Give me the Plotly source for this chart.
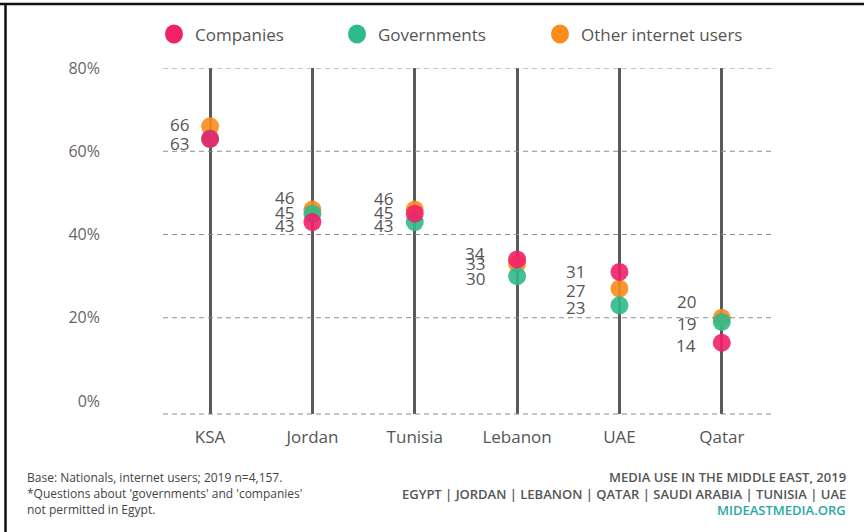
import plotly.graph_objects as go

# Share of respondents (%) by country and group
countries = ["KSA", "Jordan", "Tunisia", "Lebanon", "UAE", "Qatar"]
companies = [63, 43, 45, 34, 31, 14]
governments = [63, 45, 43, 30, 23, 19]
other_users = [66, 46, 46, 33, 27, 20]

series_names = ["Other internet users", "Governments", "Companies"]
series_values = [other_users, governments, companies]
series_colors = ["#FA8C1C", "#2FBA8A", "#F1206A"]

y_ticks = [0, 20, 40, 60, 80]
grid_values = [20, 40, 60, 80]

# Nudges (pixels) that keep the stacked value labels from colliding
label_dx = {"KSA": -19, "Jordan": -16, "Tunisia": -20, "Lebanon": -30, "UAE": -32, "Qatar": -24}
label_dy = {
    "KSA": [2, -4.5],
    "Jordan": [12, 1.5, -3],
    "Tunisia": [11, 1.5, -3],
    "Lebanon": [6, 0.5, -2],
    "UAE": [0, -1.5, -2],
    "Qatar": [16, -2, -3],
}

FONT = "Open Sans"
TEXT = "#555555"

# plot-area geometry in pixels (used to place paper-referenced decorations)
W, H = 864, 532
L, R, T, B = 163, 775, 68, 414


def px(x):
    return (x - L) / (R - L)


def py(y):
    return (B - y) / (B - T)


fig = go.Figure()
for name, vals, col in zip(series_names, series_values, series_colors):
    fig.add_trace(go.Scatter(
        x=countries, y=vals, mode="markers", name=name,
        marker=dict(size=18, color=col, opacity=0.9, line=dict(width=0)),
        showlegend=False,
    ))

annotations = []
# value labels, left of each country's line
for i, c in enumerate(countries):
    vals = sorted({companies[i], governments[i], other_users[i]}, reverse=True)
    for k, v in enumerate(vals):
        annotations.append(dict(
            x=c, y=v, xref="x", yref="y", text=str(v), showarrow=False,
            xanchor="right", yanchor="middle", xshift=label_dx[c], yshift=label_dy[c][k],
            font=dict(family=FONT, size=17, color=TEXT),
        ))

shapes = []
# dashed horizontal guides
for g in grid_values:
    shapes.append(dict(type="line", xref="paper", yref="y", x0=0, x1=1, y0=g, y1=g,
                       line=dict(color="#8a8a8a", width=1, dash="5px,4px")))
shapes.append(dict(type="line", xref="paper", yref="paper", x0=0, x1=1, y0=0, y1=0,
                   line=dict(color="#8a8a8a", width=1, dash="5px,4px")))

# custom legend
legend_items = [("Companies", "#F1206A", 174), ("Governments", "#2FBA8A", 357),
                ("Other internet users", "#FA8C1C", 560)]
for label, col, xc in legend_items:
    shapes.append(dict(type="circle", xref="paper", yref="paper",
                       xsizemode="pixel", ysizemode="pixel",
                       xanchor=px(xc), yanchor=py(34), x0=-9, x1=9, y0=-9.5, y1=9.5,
                       fillcolor=col, line=dict(width=0)))
    annotations.append(dict(x=px(xc + 19), y=py(34), xref="paper", yref="paper", text=label,
                            showarrow=False, xanchor="left", yanchor="middle",
                            font=dict(family=FONT, size=17, color=TEXT)))

# frame lines along top and left edge
shapes.append(dict(type="line", xref="paper", yref="paper", x0=px(0), x1=px(W), y0=py(4), y1=py(4),
                   line=dict(color="#111111", width=2.5)))
shapes.append(dict(type="line", xref="paper", yref="paper", x0=px(5.5), x1=px(5.5), y0=py(3), y1=py(H),
                   line=dict(color="#111111", width=2.5)))

# footer notes
left_notes = ["Base: Nationals, internet users; 2019 n=4,157.",
              "*Questions about 'governments' and 'companies'",
              "not permitted in Egypt."]
for txt, yy in zip(left_notes, [477, 494, 510]):
    annotations.append(dict(x=px(25), y=py(yy), xref="paper", yref="paper", text=txt,
                            showarrow=False, xanchor="left", yanchor="middle",
                            font=dict(family=FONT, size=12, color="#444444")))
right_notes = [("MEDIA USE IN THE MIDDLE EAST, 2019", "#555555"),
               ("EGYPT | JORDAN | LEBANON | QATAR | SAUDI ARABIA | TUNISIA | UAE", "#555555"),
               ("MIDEASTMEDIA.ORG", "#2AA8A5")]
for (txt, col), yy in zip(right_notes, [477, 494, 510]):
    annotations.append(dict(x=px(848), y=py(yy), xref="paper", yref="paper", text=txt,
                            showarrow=False, xanchor="right", yanchor="middle",
                            font=dict(family=FONT, size=13, color=col, weight=600)))

fig.update_layout(
    width=W, height=H,
    margin=dict(l=L, r=W - R, t=T, b=H - B, pad=0),
    paper_bgcolor="white", plot_bgcolor="white",
    xaxis=dict(range=[-0.46, 5.52], showgrid=True, gridcolor="#5a5a5a", gridwidth=2.6,
               zeroline=False, showline=False, ticks="", ticklabelstandoff=11,
               tickfont=dict(family=FONT, size=17, color=TEXT), fixedrange=True),
    yaxis=dict(range=[-3.12, 80], tickvals=y_ticks, ticktext=[f"{v}%" for v in y_ticks],
               showgrid=False, zeroline=False, showline=False, ticks="",
               ticklabelstandoff=62, tickfont=dict(family=FONT, size=16, color="#666666"),
               fixedrange=True),
    shapes=shapes, annotations=annotations,
)

fig.write_html("out.html")
